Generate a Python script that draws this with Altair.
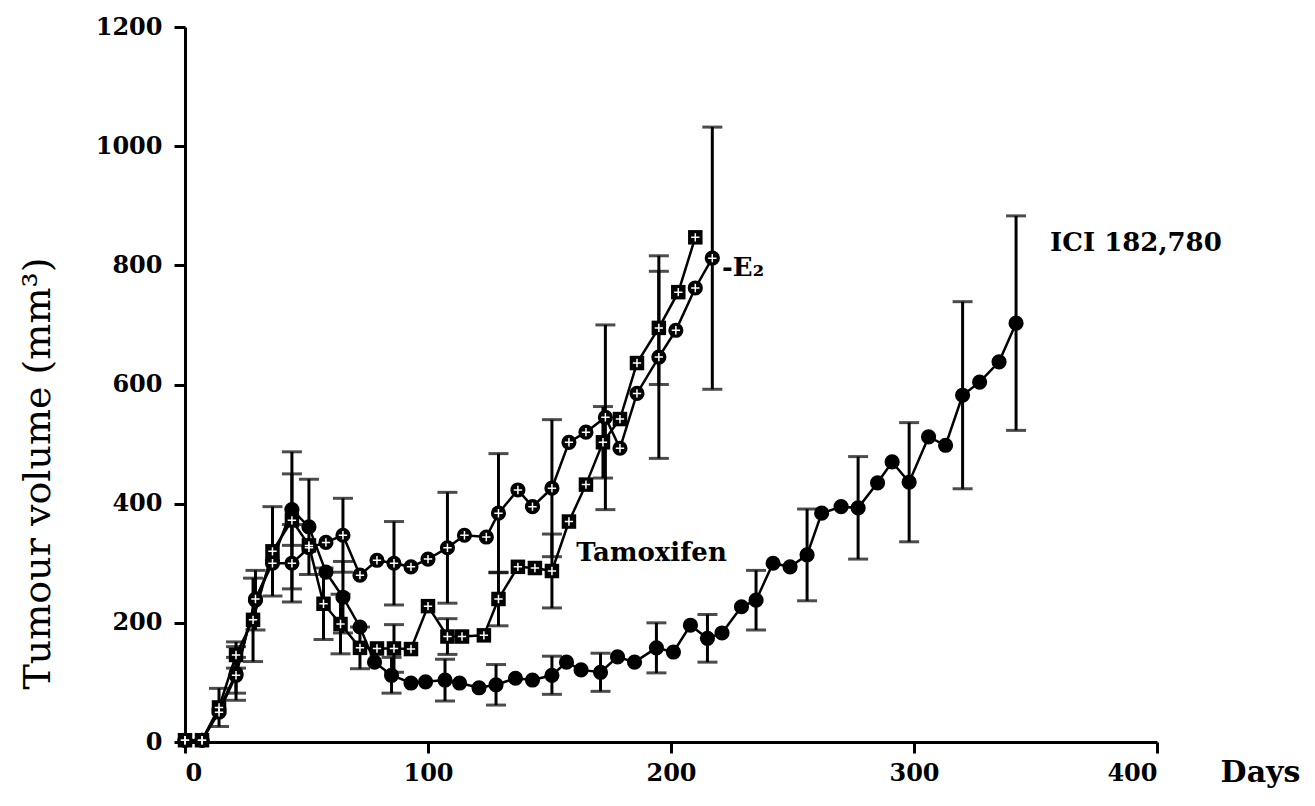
import altair as alt
import pandas as pd

# ---- data ----
e2_days = [0, 7, 14, 21, 29, 36, 44, 51, 58, 65, 72, 79, 86, 93, 100, 108, 115, 124, 129, 137, 143, 151, 158, 165, 173, 179, 186, 195, 202, 210, 217]
e2_vol = [3, 3, 50, 112, 240, 300, 300, 326, 335, 347, 280, 305, 300, 294, 307, 326, 347, 344, 384, 423, 395, 426, 503, 520, 545, 493, 585, 646, 691, 762, 812]
e2_err = [0, 0, 0, 30, 0, 0, 65, 0, 0, 62, 0, 0, 70, 0, 0, 93, 0, 0, 100, 0, 0, 115, 0, 0, 155, 0, 0, 170, 0, 0, 220]

tam_days = [0, 7, 14, 21, 28, 36, 44, 51, 57, 64, 72, 79, 86, 93, 100, 108, 114, 123, 129, 137, 144, 151, 158, 165, 172, 179, 186, 195, 203, 210]
tam_vol = [3, 3, 58, 146, 205, 320, 372, 330, 232, 198, 158, 157, 157, 156, 228, 177, 177, 179, 240, 294, 292, 287, 370, 432, 503, 542, 636, 695, 755, 847]
tam_err = [0, 0, 32, 22, 70, 75, 115, 0, 60, 50, 35, 0, 40, 0, 0, 30, 0, 0, 45, 0, 0, 62, 0, 0, 60, 0, 0, 95, 0, 0]

ici_days = [0, 7, 14, 21, 29, 36, 44, 51, 58, 65, 72, 78, 85, 93, 99, 107, 113, 121, 128, 136, 143, 151, 157, 163, 171, 178, 185, 194, 201, 208, 215, 221, 229, 235, 242, 249, 256, 262, 270, 277, 285, 291, 298, 306, 313, 320, 327, 335, 342]
ici_vol = [3, 3, 55, 115, 238, 305, 390, 361, 285, 243, 193, 134, 112, 99, 101, 104, 99, 91, 96, 107, 104, 112, 134, 121, 117, 143, 134, 158, 151, 196, 174, 183, 227, 238, 300, 294, 314, 384, 395, 393, 435, 470, 436, 512, 498, 582, 604, 638, 703]
ici_err = [0, 0, 0, 45, 50, 0, 60, 80, 0, 60, 0, 0, 30, 0, 0, 35, 0, 0, 34, 0, 0, 32, 0, 0, 32, 0, 0, 42, 0, 0, 40, 0, 0, 50, 0, 0, 77, 0, 0, 86, 0, 0, 100, 0, 0, 157, 0, 0, 180]

label_text = ["-E\u2082", "Tamoxifen", "ICI 182,780"]
label_day = [221, 161, 356]
label_vol = [795, 317, 837]

x_ticks = [0, 100, 200, 300, 400]
y_ticks = [0, 200, 400, 600, 800, 1000, 1200]

FONT = "DejaVu Serif"


def frame(name, days, vol, err):
    d = pd.DataFrame({"day": days, "vol": vol, "err": err})
    d["series"] = name
    d["lo"] = d["vol"] - d["err"]
    d["hi"] = d["vol"] + d["err"]
    return d


df = pd.concat([
    frame("E2", e2_days, e2_vol, e2_err),
    frame("Tamoxifen", tam_days, tam_vol, tam_err),
    frame("ICI", ici_days, ici_vol, ici_err),
], ignore_index=True)
bars = df[df["err"] > 0]
labels = pd.DataFrame({"text": label_text, "day": label_day, "vol": label_vol})

xs = alt.Scale(domain=[0, 400], nice=False)
ys = alt.Scale(domain=[0, 1200], nice=False)

X = alt.X("day:Q", scale=xs, axis=alt.Axis(
    values=x_ticks, format="d", title="Days", titleX=1075, titleY=30,
    titleAlign="center", titleBaseline="middle",
    titleFontSize=30, titleFontWeight="bold", titleFont=FONT))
Y = alt.Y("vol:Q", scale=ys, axis=alt.Axis(
    values=y_ticks, format="d", labelPadding=12,
    title="Tumour volume (mm\u00b3)", titleX=-147, titleY=446,
    titleAlign="center", titleBaseline="middle", titleAngle=-90,
    titleFontSize=38, titleFontWeight="normal", titleFont=FONT))

base = alt.Chart(df)

lines = base.mark_line(color="black", strokeWidth=2.5).encode(
    x=X, y=Y, detail="series:N", order="day:Q")

rules = alt.Chart(bars).mark_rule(color="black", strokeWidth=3).encode(
    x="day:Q", y="lo:Q", y2="hi:Q")
cap_lo = alt.Chart(bars).mark_tick(color="black", orient="horizontal", size=20, thickness=3).encode(
    x="day:Q", y="lo:Q")
cap_hi = alt.Chart(bars).mark_tick(color="black", orient="horizontal", size=20, thickness=3).encode(
    x="day:Q", y="hi:Q")

circ = base.transform_filter(alt.datum.series != "Tamoxifen").mark_point(
    shape="circle", filled=True, color="black", size=230, opacity=1).encode(x="day:Q", y="vol:Q")
sq = base.transform_filter(alt.datum.series == "Tamoxifen").mark_point(
    shape="square", filled=True, color="black", size=210, opacity=1).encode(x="day:Q", y="vol:Q")
plus = base.transform_filter(alt.datum.series != "ICI").mark_point(
    shape="M -1 0 L 1 0 M 0 -1 L 0 1", filled=False, color="white", strokeWidth=1.5,
    size=70, opacity=1).encode(x="day:Q", y="vol:Q")

text = alt.Chart(labels).mark_text(
    align="left", baseline="middle", font=FONT, fontSize=26, fontWeight="bold",
    color="black").encode(x="day:Q", y="vol:Q", text="text:N")

chart = alt.layer(lines, rules, cap_lo, cap_hi, circ, sq, plus, text).properties(
    width=972, height=715,
    autosize=alt.AutoSizeParams(type="none"),
    padding={"left": 177, "top": 19, "right": 150, "bottom": 50},
    background="white",
).configure_view(stroke=None).configure_axis(
    grid=False, domainColor="black", domainWidth=3, tickColor="black", tickWidth=3,
    tickSize=11, labelFont=FONT, labelFontSize=24, labelFontWeight="bold",
    labelColor="black", labelPadding=8, titleColor="black")

chart.save("out.html", embed_options={"renderer": "svg", "actions": False})
